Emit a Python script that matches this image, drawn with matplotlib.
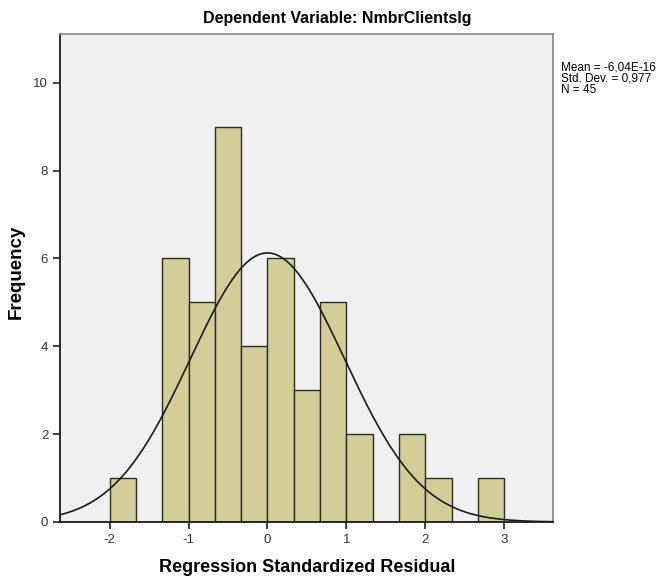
import numpy as np
import matplotlib
matplotlib.use("Agg")
import matplotlib.pyplot as plt

plt.rcParams['font.family'] = ['Liberation Sans', 'DejaVu Sans']

# Data
bin_edges = [-2.0, -5/3, -4/3, -1.0, -2/3, -1/3, 0.0, 1/3, 2/3, 1.0, 4/3, 5/3, 2.0, 7/3, 8/3, 3.0]
counts = [1, 0, 6, 5, 9, 4, 6, 3, 5, 2, 0, 2, 1, 0, 1]
mean_val = -6.04e-16
std_val = 0.977
n_val = 45
title = "Dependent Variable: NmbrClientslg"
xlabel = "Regression Standardized Residual"
ylabel = "Frequency"
xticks = [-2, -1, 0, 1, 2, 3]
yticks = [0, 2, 4, 6, 8, 10]

W, H = 667, 582
fig = plt.figure(figsize=(W/100, H/100), dpi=100)
ax = fig.add_axes([60/W, (H-522)/H, (553-60)/W, (522-33.5)/H])
ax.set_facecolor('#F0F0F0')

edges = np.array(bin_edges)
widths = np.diff(edges)
ax.bar(edges[:-1], counts, width=widths, align='edge', color='#D3CE97',
       edgecolor='#2b2b2b', linewidth=1.0, zorder=2)

bw = 1/3
xs = np.linspace(-2.63, 3.62, 400)
ys = n_val * bw / (std_val * np.sqrt(2*np.pi)) * np.exp(-0.5*((xs-mean_val)/std_val)**2)
ax.plot(xs, ys, color='#1a1a1a', linewidth=1.2, zorder=3)

ax.set_xlim(-2.63, 3.62)
ax.set_ylim(0, 11.12)
ax.set_xticks(xticks)
ax.set_xticklabels([str(t) for t in xticks])
ax.set_yticks(yticks)
ax.tick_params(axis='both', direction='out', length=5, width=1.2, colors='#222222',
               labelcolor='#333333', labelsize=9.5)

for s in ['left', 'bottom']:
    ax.spines[s].set_color('#1a1a1a')
    ax.spines[s].set_linewidth(1.3)
for s in ['top', 'right']:
    ax.spines[s].set_color('#8c8c8c')
    ax.spines[s].set_linewidth(1.3)

fig.text(307/W, 1 - 567/H, xlabel, fontsize=13, fontweight='bold', ha='center', va='center')
fig.text(16/W, 1 - 272/H, ylabel, fontsize=13.5, fontweight='bold', ha='center', va='center',
         rotation=90)
fig.text(337/W, 1 - 18/H, title, fontsize=11.5, fontweight='bold', ha='center', va='center')

stats = "Mean = -6,04E-16\nStd. Dev. = 0,977\nN = 45"
fig.text(561/W, 1 - 61/H, stats, fontsize=8.5, ha='left', va='top', linespacing=0.95)

fig.savefig('out.png', dpi=100)
